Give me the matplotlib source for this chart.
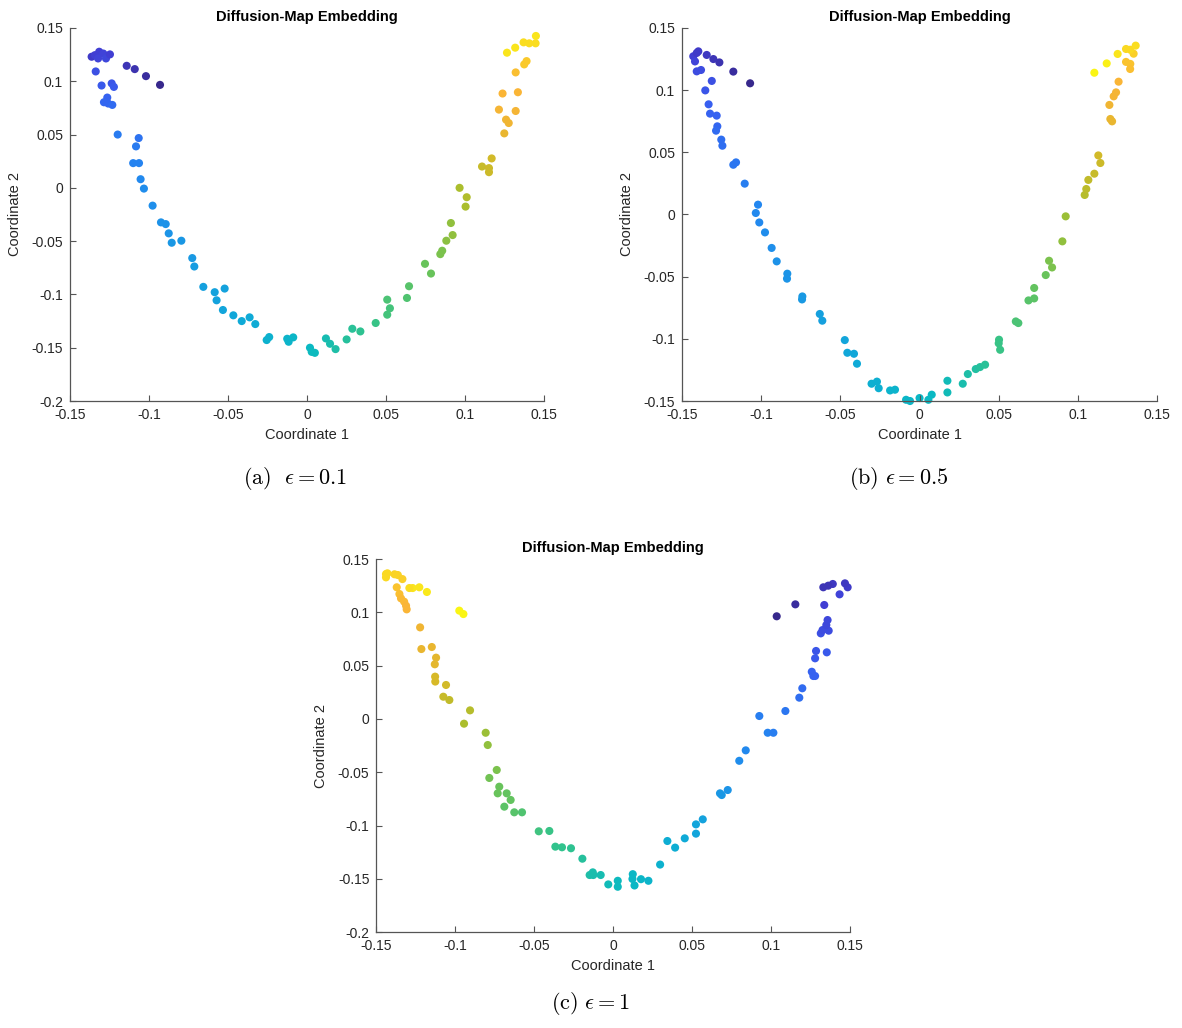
import numpy as np
import matplotlib
matplotlib.use("Agg")
import matplotlib.pyplot as plt
from matplotlib.colors import LinearSegmentedColormap

plt.rcParams['font.family'] = ['Liberation Sans', 'DejaVu Sans']
plt.rcParams['mathtext.fontset'] = 'cm'

# parula-like colormap, tuned to the look of the reference
_anchors = [(0.00, (55, 40, 140)), (0.08, (65, 62, 212)), (0.15, (55, 95, 240)),
            (0.25, (35, 135, 240)), (0.38, (15, 170, 215)), (0.47, (10, 185, 195)),
            (0.57, (50, 195, 140)), (0.66, (105, 195, 90)), (0.74, (170, 190, 45)),
            (0.82, (215, 185, 40)), (0.88, (250, 180, 55)), (0.95, (250, 215, 35)),
            (1.00, (250, 245, 20))]
parula = LinearSegmentedColormap.from_list(
    'parula', [(p, tuple(v / 255 for v in rgb)) for p, rgb in _anchors])

# ---------------- panel (a): eps = 0.1 ----------------
a_x = [-0.093, -0.1019, -0.109, -0.1141,
       -0.1363, -0.1342, -0.1315, -0.1322, -0.1289, -0.1272, -0.1247,
       -0.1337, -0.130, -0.1236, -0.1222, -0.1264, -0.1285, -0.1258, -0.1232,
       -0.1198, -0.1065, -0.1082, -0.110, -0.1063, -0.1053, -0.1032, -0.0977,
       -0.0924, -0.0894, -0.0875, -0.0856, -0.0795, -0.0726, -0.0713, -0.0656,
       -0.0584, -0.0572, -0.0521, -0.0532, -0.0466, -0.0413, -0.0363, -0.0327,
       -0.0255, -0.0239, -0.0125, -0.0116, -0.0087, 0.0019, 0.003, 0.005,
       0.012, 0.0146, 0.0181, 0.0251, 0.0287, 0.0338, 0.0435, 0.0508, 0.0525,
       0.0508, 0.0633, 0.0646, 0.0747, 0.0785, 0.0844, 0.0856, 0.0882, 0.0911,
       0.0922, 0.1004, 0.1011, 0.0966, 0.1108, 0.1152, 0.1152, 0.1169, 0.1249,
       0.126, 0.1277, 0.1215, 0.1321, 0.1238, 0.1335, 0.1321, 0.1375, 0.139,
       0.1266, 0.1318, 0.1371, 0.1407, 0.1447, 0.1449]
a_y = [0.0966, 0.1048, 0.1114, 0.1145,
       0.123, 0.1245, 0.1277, 0.1214, 0.126, 0.1214, 0.1252,
       0.1092, 0.096, 0.098, 0.0947, 0.0847, 0.0803, 0.0791, 0.0778,
       0.050, 0.0467, 0.0389, 0.0232, 0.0232, 0.0081, -0.0007, -0.0167,
       -0.0324, -0.034, -0.0427, -0.0515, -0.0496, -0.0659, -0.0738, -0.0929,
       -0.0979, -0.1055, -0.0945, -0.1146, -0.1196, -0.125, -0.1215, -0.1278,
       -0.1428, -0.140, -0.1416, -0.1444, -0.1403, -0.150, -0.1539, -0.1548,
       -0.1413, -0.1463, -0.1513, -0.1422, -0.1322, -0.1347, -0.1268, -0.1049, -0.113,
       -0.119, -0.1033, -0.0923, -0.0713, -0.0804, -0.0622, -0.059, -0.0496, -0.033,
       -0.0443, -0.0176, -0.0088, 0.0, 0.020, 0.0185, 0.0147, 0.0276, 0.0511,
       0.064, 0.0608, 0.0734, 0.0721, 0.0885, 0.0897, 0.1083, 0.1158, 0.1189,
       0.1268, 0.1315, 0.1365, 0.1356, 0.1356, 0.1425]
a_c = [0.00, 0.02, 0.04, 0.05,
       0.07, 0.08, 0.08, 0.09, 0.09, 0.10, 0.08,
       0.12, 0.14, 0.13, 0.14, 0.16, 0.17, 0.17, 0.18,
       0.22, 0.20, 0.22, 0.24, 0.24, 0.26, 0.27, 0.28,
       0.29, 0.29, 0.30, 0.31, 0.31, 0.32, 0.33, 0.34,
       0.35, 0.35, 0.35, 0.36, 0.37, 0.38, 0.38, 0.39,
       0.42, 0.42, 0.44, 0.44, 0.45, 0.47, 0.48, 0.48,
       0.50, 0.51, 0.52, 0.54, 0.55, 0.56, 0.58, 0.61, 0.60,
       0.60, 0.62, 0.63, 0.66, 0.66, 0.68, 0.68, 0.70, 0.71,
       0.71, 0.74, 0.75, 0.74, 0.79, 0.80, 0.80, 0.81, 0.85,
       0.86, 0.86, 0.87, 0.87, 0.88, 0.88, 0.90, 0.92, 0.92,
       0.97, 0.97, 0.96, 0.96, 0.96, 0.97]

# ---------------- panel (b): eps = 0.5 ----------------
b_x = [-0.107, -0.1176, -0.1264, -0.1302, -0.1344,
       -0.1429, -0.1418, -0.1407, -0.1397,
       -0.1407, -0.138, -0.1312, -0.1353, -0.1332, -0.1323, -0.1281,
       -0.1277, -0.1285, -0.1252, -0.1245, -0.1176, -0.1159, -0.1104,
       -0.102, -0.1034, -0.1012, -0.0976, -0.0934, -0.0902, -0.0835, -0.0837,
       -0.074, -0.0742, -0.063, -0.0614, -0.0472, -0.0456, -0.0414, -0.0395,
       -0.0303, -0.0269, -0.0258, -0.0186, -0.0155, -0.0085, -0.006, 0.0,
       0.0056, 0.0077, 0.0176, 0.0176, 0.0273, 0.0305, 0.0355, 0.0382, 0.0414,
       0.0502, 0.050, 0.0509, 0.0608, 0.0624, 0.0688, 0.0724, 0.0724, 0.0797,
       0.0818, 0.0837, 0.0902, 0.0923, 0.1043, 0.1053, 0.1066, 0.1104, 0.1129,
       0.1142, 0.1205, 0.1216, 0.1199, 0.1226, 0.1241, 0.1257, 0.1304, 0.1331,
       0.133, 0.1352, 0.1304, 0.1331, 0.1365, 0.1251, 0.1182, 0.1104]
b_y = [0.1055, 0.1149, 0.1223, 0.125, 0.1283,
       0.1272, 0.1231, 0.1299, 0.1312,
       0.1151, 0.1162, 0.1074, 0.0998, 0.0886, 0.0811, 0.0795,
       0.0709, 0.0674, 0.0602, 0.0553, 0.040, 0.0419, 0.0248,
       0.0079, 0.0012, -0.0064, -0.0144, -0.0269, -0.0377, -0.0476, -0.0516,
       -0.0659, -0.0683, -0.080, -0.0854, -0.101, -0.1112, -0.112, -0.120,
       -0.1361, -0.1344, -0.1397, -0.1415, -0.1409, -0.149, -0.150, -0.1476,
       -0.149, -0.1449, -0.1337, -0.1431, -0.1361, -0.1283, -0.1243, -0.1227, -0.1208,
       -0.1007, -0.1036, -0.1088, -0.086, -0.0873, -0.0691, -0.0675, -0.0591, -0.0487,
       -0.0372, -0.0426, -0.0216, -0.0015, 0.0157, 0.0205, 0.0278, 0.0328, 0.0475,
       0.0414, 0.0768, 0.0749, 0.0881, 0.095, 0.0982, 0.1068, 0.1227, 0.1211,
       0.117, 0.1293, 0.1331, 0.1325, 0.1358, 0.1291, 0.1215, 0.114]
b_c = [0.00, 0.02, 0.04, 0.05, 0.06,
       0.08, 0.09, 0.07, 0.07,
       0.11, 0.11, 0.12, 0.13, 0.15, 0.16, 0.16,
       0.17, 0.18, 0.19, 0.19, 0.21, 0.21, 0.23,
       0.25, 0.26, 0.26, 0.27, 0.28, 0.29, 0.30, 0.30,
       0.32, 0.32, 0.34, 0.34, 0.36, 0.37, 0.37, 0.38,
       0.41, 0.41, 0.41, 0.43, 0.43, 0.45, 0.45, 0.46,
       0.47, 0.47, 0.49, 0.49, 0.51, 0.52, 0.53, 0.54, 0.55,
       0.58, 0.58, 0.58, 0.61, 0.61, 0.63, 0.64, 0.65, 0.66,
       0.68, 0.68, 0.71, 0.72, 0.76, 0.77, 0.78, 0.79, 0.81,
       0.80, 0.85, 0.85, 0.86, 0.87, 0.87, 0.88, 0.91, 0.91,
       0.90, 0.93, 0.95, 0.95, 0.96, 0.97, 0.99, 1.00]

# ---------------- panel (c): eps = 1 ----------------
c_x = [-0.0975, -0.0949, -0.118, -0.1228, -0.127, -0.1291,
       -0.1439, -0.1439, -0.143, -0.1385, -0.1364, -0.1335,
       -0.1371, -0.1354, -0.1344, -0.1324, -0.1312, -0.1308,
       -0.1223, -0.1215, -0.1149, -0.1122, -0.113, -0.1128, -0.1127, -0.1059,
       -0.1076, -0.1038, -0.0907, -0.0945, -0.0808, -0.0795, -0.0738, -0.0785,
       -0.0722, -0.0732, -0.0675, -0.065, -0.069, -0.0627, -0.0578, -0.0472,
       -0.0405, -0.0367, -0.0325, -0.0268, -0.0196, -0.015, -0.013, -0.0127,
       -0.008, -0.0032, 0.0028, 0.0028, 0.0123, 0.0121, 0.0134, 0.0175, 0.0222,
       0.0296, 0.0342, 0.0391, 0.0452, 0.0523, 0.0566, 0.0523, 0.0675, 0.0686,
       0.0724, 0.0797, 0.0838, 0.0924, 0.0977, 0.1013, 0.1089, 0.1177, 0.1196,
       0.1256, 0.1266, 0.1277, 0.1277, 0.1283, 0.1351, 0.1313, 0.1324, 0.1363,
       0.1348, 0.1356, 0.1335, 0.1432, 0.1483, 0.1466, 0.1389, 0.136, 0.1329,
       0.1152, 0.1034]
c_y = [0.1016, 0.0984, 0.1191, 0.1235, 0.1228, 0.1228,
       0.1359, 0.1328, 0.1366, 0.1357, 0.135, 0.1312,
       0.1235, 0.1172, 0.1131, 0.110, 0.1062, 0.1028,
       0.0859, 0.0656, 0.0675, 0.0575, 0.0513, 0.0397, 0.0351, 0.0319,
       0.0209, 0.0178, 0.0081, -0.0044, -0.0129, -0.0244, -0.0478, -0.0553,
       -0.0635, -0.0697, -0.0697, -0.0759, -0.0822, -0.0875, -0.0875, -0.1053,
       -0.105, -0.1197, -0.1203, -0.1212, -0.131, -0.1463, -0.1438, -0.1463,
       -0.1463, -0.1551, -0.1517, -0.1573, -0.1455, -0.150, -0.1561, -0.1502, -0.1517,
       -0.1365, -0.1144, -0.1206, -0.1119, -0.0988, -0.0941, -0.1075, -0.0697, -0.0713,
       -0.0666, -0.0392, -0.0294, 0.0028, -0.0129, -0.0129, 0.0075, 0.020, 0.0288,
       0.0443, 0.0403, 0.0403, 0.0569, 0.0638, 0.0625, 0.0803, 0.0834, 0.0828,
       0.0881, 0.0928, 0.1069, 0.1169, 0.1235, 0.1272, 0.1266, 0.125, 0.1235,
       0.1075, 0.0963]
c_c = [1.00, 1.00, 0.98, 0.97, 0.97, 0.96,
       0.95, 0.95, 0.95, 0.94, 0.94, 0.93,
       0.91, 0.90, 0.89, 0.89, 0.88, 0.88,
       0.86, 0.85, 0.85, 0.84, 0.84, 0.82, 0.82, 0.81,
       0.79, 0.78, 0.76, 0.74, 0.72, 0.71, 0.68, 0.67,
       0.66, 0.66, 0.65, 0.65, 0.64, 0.63, 0.62, 0.59,
       0.58, 0.57, 0.57, 0.56, 0.54, 0.52, 0.51, 0.51,
       0.50, 0.49, 0.48, 0.48, 0.46, 0.46, 0.46, 0.45, 0.44,
       0.42, 0.40, 0.40, 0.38, 0.36, 0.35, 0.36, 0.31, 0.31,
       0.30, 0.27, 0.26, 0.23, 0.24, 0.23, 0.21, 0.19, 0.18,
       0.16, 0.16, 0.16, 0.14, 0.13, 0.14, 0.12, 0.11, 0.11,
       0.10, 0.10, 0.08, 0.09, 0.07, 0.06, 0.06, 0.05, 0.05,
       0.02, 0.00]

panels = [
    ([0.0592, 0.6099, 0.4010, 0.3629], a_x, a_y, a_c, (-0.2, 0.15), r'$(\mathrm{a})\ \ \epsilon = 0.1$', (0.250, 0.535)),
    ([0.5770, 0.6099, 0.4019, 0.3629], b_x, b_y, b_c, (-0.15, 0.15), r'$(\mathrm{b})\ \epsilon = 0.5$', (0.760, 0.535)),
    ([0.3184, 0.0931, 0.4010, 0.3631], c_x, c_y, c_c, (-0.2, 0.15), r'$(\mathrm{c})\ \epsilon = 1$', (0.500, 0.024)),
]

fig = plt.figure(figsize=(11.82, 10.28), dpi=100)
axis_col = '#555555'
fmt = matplotlib.ticker.FuncFormatter(lambda v, p: f'{v:g}' if abs(v) > 1e-9 else '0')
for rect, xs, ys, cs, ylim, cap, cap_pos in panels:
    ax = fig.add_axes(rect)
    ax.scatter(xs, ys, c=cs, cmap=parula, vmin=0, vmax=1, s=34, linewidths=0, clip_on=False)
    ax.set_xlim(-0.15, 0.15)
    ax.set_ylim(*ylim)
    ax.set_xticks(np.arange(-0.15, 0.151, 0.05))
    ax.set_yticks(np.arange(ylim[0], ylim[1] + 0.001, 0.05))
    ax.xaxis.set_major_formatter(fmt)
    ax.yaxis.set_major_formatter(fmt)
    for s in ['top', 'right']:
        ax.spines[s].set_visible(False)
    for s in ['left', 'bottom']:
        ax.spines[s].set_color(axis_col)
        ax.spines[s].set_linewidth(0.9)
    ax.tick_params(direction='in', length=4, width=0.8, colors=axis_col,
                   labelcolor='#262626', labelsize=10, pad=5)
    ax.set_xlabel('Coordinate 1', fontsize=10.5, color='#262626', labelpad=4)
    ax.set_ylabel('Coordinate 2', fontsize=10.5, color='#262626', labelpad=7)
    ax.set_title('Diffusion-Map Embedding', fontsize=10.5, fontweight='bold', pad=5)
    fig.text(cap_pos[0], cap_pos[1], cap, fontsize=16, ha='center', va='center')

fig.savefig('out.png', dpi=100)
